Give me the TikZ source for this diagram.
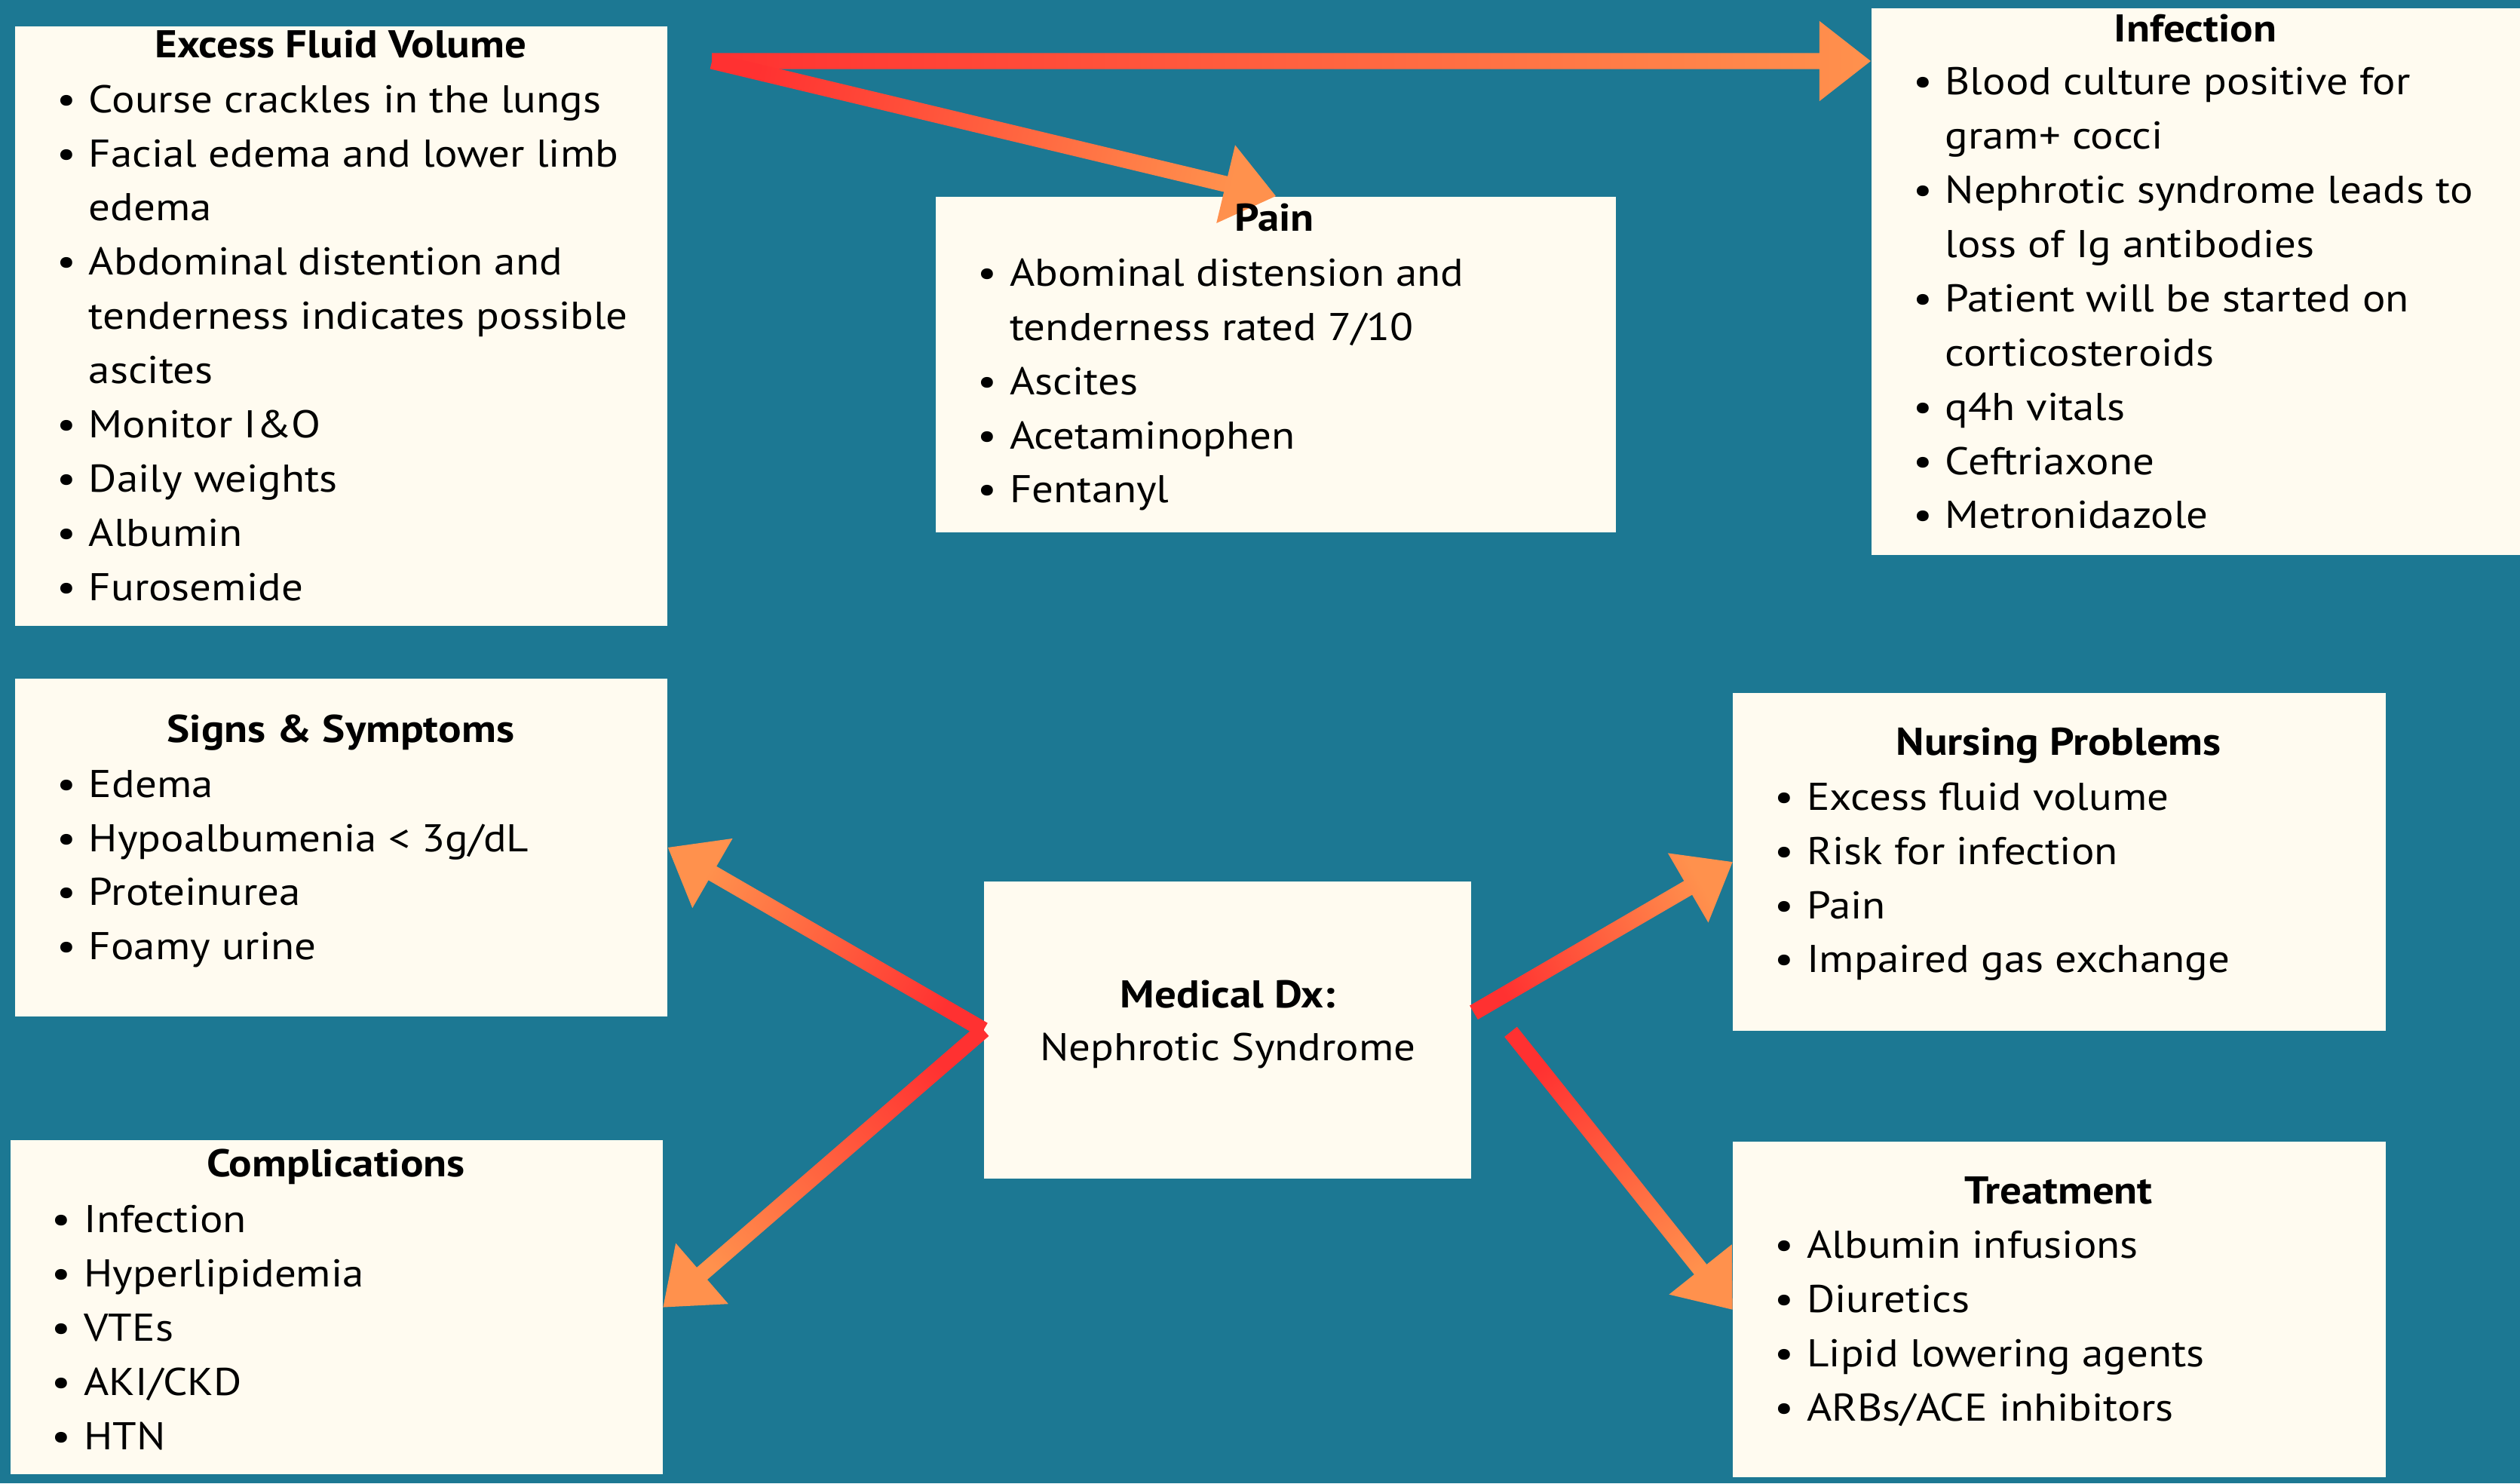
\documentclass[tikz,border=0pt]{standalone}
\usepackage{fontspec}
\setmainfont{PT Sans}[FakeStretch=1.11]
\usetikzlibrary{calc,positioning}

\definecolor{bgteal}{HTML}{1C7893}
\definecolor{boxcream}{HTML}{FFFBF0}
\definecolor{ndred}{HTML}{FF3131}
\definecolor{ndorange}{HTML}{FF914D}

\newcommand{\bodyfont}{\fontsize{13.7}{19.2}\selectfont}
\newcommand{\blt}{\makebox[0.4cm][l]{\textbullet}}
\newcommand{\cnt}{\hspace{0.4cm}}

\tikzset{
  box/.style={fill=boxcream, anchor=north west, inner sep=0pt},
  head/.style={anchor=base, font=\bodyfont\bfseries, inner sep=0pt},
  list/.style={anchor=base west, font=\bodyfont, inner sep=0pt},
}

\begin{document}
\begin{tikzpicture}[x=0.02cm, y=-0.02cm]
  \fill[bgteal] (0,0) rectangle (1568,923);
  \useasboundingbox (0,0) rectangle (1568,923);

  % boxes
  \node (efv) [box, minimum width=8.12cm, minimum height=7.46cm] at (9,16) {};
  \node (pain) [box, minimum width=8.46cm, minimum height=4.18cm] at (582,122) {};
  \node (inf) [box, minimum width=8.08cm, minimum height=6.80cm] at (1164,5) {};
  \node (ss) [box, minimum width=8.12cm, minimum height=4.20cm] at (9,422) {};
  \node (comp) [box, minimum width=8.12cm, minimum height=4.16cm] at (6,709) {};
  \node (dx) [box, minimum width=6.06cm, minimum height=3.70cm] at (612,548) {};
  \node (np) [box, minimum width=8.12cm, minimum height=4.20cm] at (1078,431) {};
  \node (tr) [box, minimum width=8.12cm, minimum height=4.18cm] at (1078,710) {};

  \coordinate (efvout) at (443,38);
  \coordinate (inftip) at (1164,38);
  \coordinate (dxne) at (917,630);
  \coordinate (dxse) at (940,642);

  % arrows
  \foreach \src/\dst in {efvout/inftip, efvout/pain.north, dx.west/ss.east,
      dx.west/comp.east, dxne/np.west, dxse/tr.west}{
    \path let \p1=(\src), \p2=(\dst) in \pgfextra{%
      \pgfmathsetmacro\ang{atan2(\y2-\y1,\x2-\x1)}%
      \pgfmathsetmacro\shang{\ang-90}%
      \global\let\gang\ang \global\let\gshang\shang};
    \shade[bottom color=ndred, top color=ndorange, shading angle=\gshang]
      ($(\src)+(\gang+90:0.1cm)$)
      -- ($(\dst)+(\gang+180:0.64cm)+(\gang+90:0.1cm)$)
      -- ($(\dst)+(\gang+180:0.64cm)+(\gang+90:0.5cm)$)
      -- (\dst)
      -- ($(\dst)+(\gang+180:0.64cm)+(\gang-90:0.5cm)$)
      -- ($(\dst)+(\gang+180:0.64cm)+(\gang-90:0.1cm)$)
      -- ($(\src)+(\gang-90:0.1cm)$) -- cycle;
  }

  % texts
  \node (efvhead) [head] at (212,36) {Excess Fluid Volume};
  \node (efvlist) [list] at (35,70) {\begin{tabular}[t]{@{}l@{}}
    \blt Course crackles in the lungs\\
    \blt Facial edema and lower limb\\
    \cnt edema\\
    \blt Abdominal distention and\\
    \cnt tenderness indicates possible\\
    \cnt ascites\\
    \blt Monitor I\&O\\
    \blt Daily weights\\
    \blt Albumin\\
    \blt Furosemide
  \end{tabular}};

  \node (painhead) [head] at (793,144) {Pain};
  \node (painlist) [list] at (608,178) {\begin{tabular}[t]{@{}l@{}}
    \blt Abominal distension and\\
    \cnt tenderness rated 7/10\\
    \blt Ascites\\
    \blt Acetaminophen\\
    \blt Fentanyl
  \end{tabular}};

  \node (infhead) [head] at (1366,26) {Infection};
  \node (inflist) [list] at (1190,59) {\begin{tabular}[t]{@{}l@{}}
    \blt Blood culture positive for\\
    \cnt gram+ cocci\\
    \blt Nephrotic syndrome leads to\\
    \cnt loss of Ig antibodies\\
    \blt Patient will be started on\\
    \cnt corticosteroids\\
    \blt q4h vitals\\
    \blt Ceftriaxone\\
    \blt Metronidazole
  \end{tabular}};

  \node (sshead) [head] at (212,462) {Signs \& Symptoms};
  \node (sslist) [list] at (35,496) {\begin{tabular}[t]{@{}l@{}}
    \blt Edema\\
    \blt Hypoalbumenia < 3g/dL\\
    \blt Proteinurea\\
    \blt Foamy urine
  \end{tabular}};

  \node (comphead) [head] at (209,732) {Complications};
  \node (complist) [list] at (32,767) {\begin{tabular}[t]{@{}l@{}}
    \blt Infection\\
    \blt Hyperlipidemia\\
    \blt VTEs\\
    \blt AKI/CKD\\
    \blt HTN
  \end{tabular}};

  \node (dxhead) [head] at (764,627) {Medical Dx:};
  \node (dxname) [head, font=\bodyfont] at (764,660) {Nephrotic Syndrome};

  \node (nphead) [head] at (1281,470) {Nursing Problems};
  \node (nplist) [list] at (1104,504) {\begin{tabular}[t]{@{}l@{}}
    \blt Excess fluid volume\\
    \blt Risk for infection\\
    \blt Pain\\
    \blt Impaired gas exchange
  \end{tabular}};

  \node (trhead) [head] at (1281,749) {Treatment};
  \node (trlist) [list] at (1104,783) {\begin{tabular}[t]{@{}l@{}}
    \blt Albumin infusions\\
    \blt Diuretics\\
    \blt Lipid lowering agents\\
    \blt ARBs/ACE inhibitors
  \end{tabular}};
\end{tikzpicture}
\end{document}
